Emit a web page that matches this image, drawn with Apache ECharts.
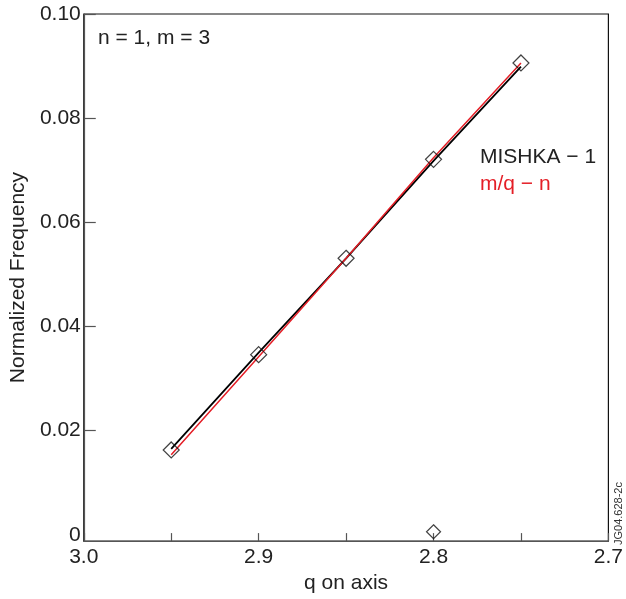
<!DOCTYPE html>
<html>
<head>
<meta charset="utf-8">
<script src="https://cdn.jsdelivr.net/npm/echarts@6/dist/echarts.min.js"></script>
<style>
  html, body { margin: 0; padding: 0; background: #fff; }
  #chart { width: 626px; height: 599px; }
</style>
</head>
<body>
<div id="chart"></div>
<script>
// ---- data ----
const qValues = [2.95, 2.9, 2.85, 2.8, 2.75];
const mishkaLine = [0.0165, 0.0350, 0.0531, 0.0718, 0.0899];
const mishkaPoints = [0.0163, 0.0346, 0.0531, 0.0721, 0.0906];
const modelLine = [0.0154, 0.0342, 0.0531, 0.0724, 0.0906];
const extraPoint = [[2.8, 0.0006]];
const xTicks = [3.0, 2.95, 2.9, 2.85, 2.8, 2.75, 2.7];
const xLabels = [3.0, 2.9, 2.8, 2.7];
const yLabels = [0, 0.02, 0.04, 0.06, 0.08, 0.10];
const yTicks = [0.02, 0.04, 0.06, 0.08, 0.10];

const FONT = "'Liberation Sans', Arial, Helvetica, sans-serif";
const RED = '#e41e26';

const pair = (xs, ys) => xs.map((x, i) => [x, ys[i]]);

const chart = echarts.init(document.getElementById('chart'), null, { renderer: 'canvas' });
chart.setOption({
  animation: false,
  backgroundColor: '#fff',
  grid: {
    left: 83, top: 14, width: 529, height: 529,
    show: true, borderColor: '#111', borderWidth: 1.2, backgroundColor: 'transparent'
  },
  xAxis: {
    type: 'value', inverse: true, min: 2.7, max: 3.0,
    name: 'q on axis', nameLocation: 'middle', nameGap: 27,
    nameTextStyle: { fontFamily: FONT, fontSize: 21, color: '#222' },
    axisLine: { show: true, onZero: false, lineStyle: { color: '#555', width: 1.2 } },
    axisTick: { show: true, inside: true, length: 8, customValues: xTicks, lineStyle: { color: '#555', width: 1.2 } },
    axisLabel: {
      customValues: xLabels, margin: 6,
      fontFamily: FONT, fontSize: 21, color: '#222',
      formatter: v => v.toFixed(1), showMinLabel: true, showMaxLabel: true
    },
    splitLine: { show: false }
  },
  yAxis: {
    type: 'value', min: -0.0012, max: 0.1,
    name: 'Normalized Frequency', nameLocation: 'middle', nameGap: 48,
    nameTextStyle: { fontFamily: FONT, fontSize: 21, color: '#222' },
    axisLine: { show: true, onZero: false, lineStyle: { color: '#555', width: 1.2 } },
    axisTick: { show: true, inside: true, length: 12, customValues: yTicks, lineStyle: { color: '#555', width: 1.2 } },
    axisLabel: {
      customValues: yLabels, margin: 3,
      fontFamily: FONT, fontSize: 21, color: '#222',
      formatter: v => (Math.abs(v) < 1e-9 ? '0' : v.toFixed(2)),
      showMinLabel: true, showMaxLabel: true
    },
    splitLine: { show: false }
  },
  series: [
    {
      name: 'MISHKA - 1', type: 'line', data: pair(qValues, mishkaLine),
      showSymbol: false, symbol: 'none',
      lineStyle: { color: '#000', width: 1.8 }, z: 2
    },
    {
      name: 'm/q - n', type: 'line', data: pair(qValues, modelLine),
      showSymbol: false, symbol: 'none',
      lineStyle: { color: RED, width: 1.5 }, z: 3
    },
    {
      name: 'points', type: 'scatter', data: pair(qValues, mishkaPoints),
      symbol: 'diamond', symbolSize: 16,
      itemStyle: { color: 'rgba(0,0,0,0)', borderColor: '#111', borderWidth: 1.2 }, z: 4
    },
    {
      name: 'extra', type: 'scatter', data: extraPoint,
      symbol: 'diamond', symbolSize: 14,
      itemStyle: { color: 'rgba(0,0,0,0)', borderColor: '#111', borderWidth: 1.2 }, z: 4
    }
  ],
  graphic: [
    { type: 'text', left: 98, top: 28, style: { text: 'n = 1, m = 3', font: '21px ' + FONT, fill: '#222' } },
    { type: 'text', left: 480, top: 147, style: { text: 'MISHKA \u2212 1', font: '21px ' + FONT, fill: '#222' } },
    { type: 'text', left: 480, top: 174, style: { text: 'm/q \u2212 n', font: '21px ' + FONT, fill: RED } },
    { type: 'text', x: 626 - 2, y: 545, rotation: Math.PI / 2,
      style: { text: 'JG04.628-2c', font: '11px ' + FONT, fill: '#333', align: 'left', verticalAlign: 'bottom' } }
  ]
});
</script>
</body>
</html>
